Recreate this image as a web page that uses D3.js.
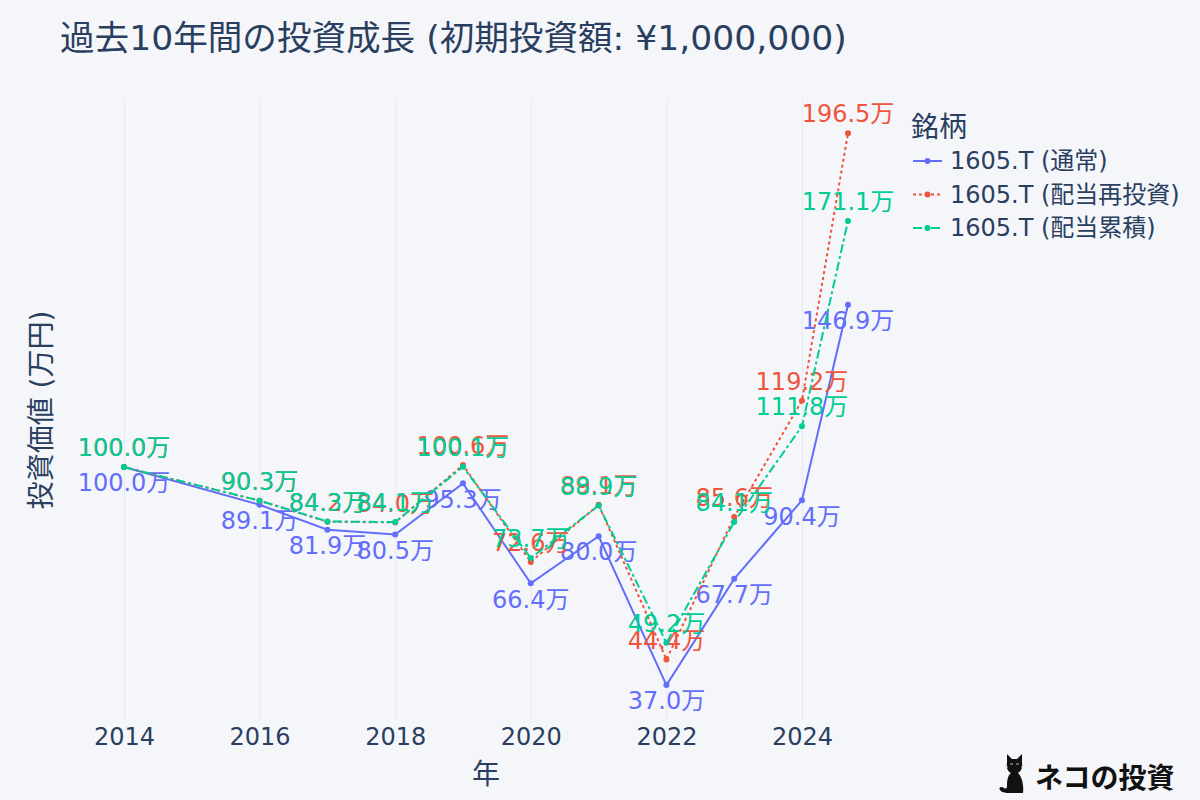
<!DOCTYPE html>
<html lang="ja">
<head>
	<meta charset="UTF-8">
	<title>過去10年間の投資成長</title>
	<script type="text/javascript" src="https://d3js.org/d3.v7.min.js"></script>
	<style>
		html, body { margin: 0; padding: 0; background: #f5f6fa; }
		svg { display: block; }
		text { font-family: "DejaVu Sans", "Noto Sans CJK JP", sans-serif; }
	</style>
</head>
<body>
	<svg></svg>

	<script type="text/javascript">
		// data (values in 万円)
		var dates = ["2014-01-01", "2016-01-01", "2017-01-01", "2018-01-01", "2019-01-01",
			"2020-01-01", "2021-01-01", "2022-01-01", "2023-01-01", "2024-01-01", "2024-09-05"];
		var normalValues = [100.0, 89.1, 81.9, 80.5, 95.3, 66.4, 80.0, 37.0, 67.7, 90.4, 146.9];
		var reinvestValues = [100.0, 90.3, 84.2, 84.0, 100.6, 72.6, 89.1, 44.4, 85.6, 119.2, 196.5];
		var accumValues = [100.0, 90.3, 84.3, 84.1, 100.1, 73.7, 88.9, 49.2, 84.1, 111.8, 171.1];
		var seriesNames = ["1605.T (通常)", "1605.T (配当再投資)", "1605.T (配当累積)"];
		var tickYears = [2014, 2016, 2018, 2020, 2022, 2024];
		var yRange = [26.9, 206.1];

		var width = 1200;
		var height = 800;
		var textColor = "#2a3f5f";
		var colors = ["#636efa", "#EF553B", "#00cc96"];
		var dashes = [null, "3,3", "9,3,3,3"];
		var labelPos = ["bottom", "top", "top"];

		var plot = {left: 80, right: 892, top: 100, bottom: 720};
		var pad = 44;

		var svg = d3.select("svg").attr("width", width).attr("height", height);
		var parse = d3.utcParse("%Y-%m-%d");

		function draw() {
			svg.append("rect").attr("width", width).attr("height", height).attr("fill", "#f5f6fa");

			var xDates = dates.map(parse);
			var scaleX = d3.scaleUtc()
				.domain([xDates[0], xDates[xDates.length - 1]])
				.range([plot.left + pad, plot.right - pad]);
			var scaleY = d3.scaleLinear().domain(yRange).range([plot.bottom, plot.top]);
			var tickDates = tickYears.map(function(y) { return new Date(Date.UTC(y, 0, 1)); });

			// vertical grid
			var grid = svg.append("g")
				.attr("transform", "translate(0," + plot.bottom + ")")
				.call(d3.axisBottom(scaleX).tickValues(tickDates).tickSize(-(plot.bottom - plot.top)).tickFormat(""));
			grid.select(".domain").remove();
			grid.selectAll("line").attr("stroke", "#e6e9f0").attr("stroke-width", 1);

			// x tick labels
			var axisX = svg.append("g")
				.attr("transform", "translate(0," + plot.bottom + ")")
				.call(d3.axisBottom(scaleX).tickValues(tickDates).tickSize(0).tickPadding(8)
					.tickFormat(d3.utcFormat("%Y")));
			axisX.select(".domain").remove();
			axisX.selectAll("text")
				.attr("fill", textColor)
				.style("font-size", "24px")
				.style("font-family", "'DejaVu Sans', 'Noto Sans CJK JP', sans-serif");

			var series = [normalValues, reinvestValues, accumValues];
			var line = d3.line()
				.x(function(d, i) { return scaleX(xDates[i]); })
				.y(function(d) { return scaleY(d); });

			series.forEach(function(vals, s) {
				var g = svg.append("g");
				g.append("path")
					.datum(vals)
					.attr("d", line)
					.attr("fill", "none")
					.attr("stroke", colors[s])
					.attr("stroke-width", 2)
					.attr("stroke-dasharray", dashes[s]);
				g.selectAll("circle").data(vals).enter().append("circle")
					.attr("cx", function(d, i) { return scaleX(xDates[i]); })
					.attr("cy", function(d) { return scaleY(d); })
					.attr("r", 3)
					.attr("fill", colors[s]);
				g.selectAll("text").data(vals).enter().append("text")
					.attr("x", function(d, i) { return scaleX(xDates[i]); })
					.attr("y", function(d) {
						return labelPos[s] == "top" ? scaleY(d) - 6 : scaleY(d) + 5;
					})
					.attr("dy", labelPos[s] == "top" ? "-0.2em" : "0.8em")
					.attr("text-anchor", "middle")
					.attr("fill", colors[s])
					.style("font-size", "24px")
					.text(function(d) { return d.toFixed(1) + "万"; });
			});

			// titles
			svg.append("text")
				.attr("x", 60).attr("y", 38)
				.attr("dominant-baseline", "central")
				.attr("fill", textColor)
				.style("font-size", "34.6px")
				.text("過去10年間の投資成長 (初期投資額: ¥1,000,000)");
			svg.append("text")
				.attr("x", (plot.left + plot.right) / 2).attr("y", 774)
				.attr("dominant-baseline", "central")
				.attr("text-anchor", "middle")
				.attr("fill", textColor)
				.style("font-size", "28px")
				.text("年");
			svg.append("text")
				.attr("transform", "translate(41," + (plot.top + plot.bottom) / 2 + ") rotate(-90)")
				.attr("dominant-baseline", "central")
				.attr("text-anchor", "middle")
				.attr("fill", textColor)
				.style("font-size", "28px")
				.text("投資価値 (万円)");

			// legend
			var legend = svg.append("g").attr("transform", "translate(908,0)");
			legend.append("text")
				.attr("x", 3).attr("y", 127)
				.attr("dominant-baseline", "central")
				.attr("fill", textColor)
				.style("font-size", "28px")
				.text("銘柄");
			seriesNames.forEach(function(name, s) {
				var y = 161 + s * 33.5;
				legend.append("line")
					.attr("x1", 5).attr("x2", 34).attr("y1", y).attr("y2", y)
					.attr("stroke", colors[s]).attr("stroke-width", 2)
					.attr("stroke-dasharray", dashes[s]);
				legend.append("circle").attr("cx", 19.5).attr("cy", y).attr("r", 3).attr("fill", colors[s]);
				legend.append("text")
					.attr("x", 42).attr("y", y)
					.attr("dominant-baseline", "central")
					.attr("fill", textColor)
					.style("font-size", "24px")
					.text(name);
			});

			// logo
			var logo = svg.append("g").attr("transform", "translate(998,753)");
			logo.append("path")
				.attr("d", "M9,10 L9,1 L14,6 L19,6 L24,1 L24,10 C25,16 22,19 20,20 C24,24 26,32 25,40 L11,40 C8,40 4,40 2,37 C0,34 4,33 6,35 C7,36 9,36 9,33 C9,27 10,22 13,20 C10,19 8,15 9,10 Z")
				.attr("fill", "#111");
			logo.append("path")
				.attr("d", "M12,11 L15,11 M18,11 L21,11 M10,14 L6,13 M23,14 L27,13")
				.attr("stroke", "#ddd").attr("stroke-width", 0.8);
			logo.append("text")
				.attr("x", 37).attr("y", 23)
				.attr("dominant-baseline", "central")
				.attr("fill", "#111")
				.style("font-family", "'Noto Sans CJK JP', sans-serif")
				.style("font-weight", "700")
				.style("font-size", "28px")
				.text("ネコの投資");
		}

		window.onload = function() {
			draw();
		}
	</script>
</body>
</html>
